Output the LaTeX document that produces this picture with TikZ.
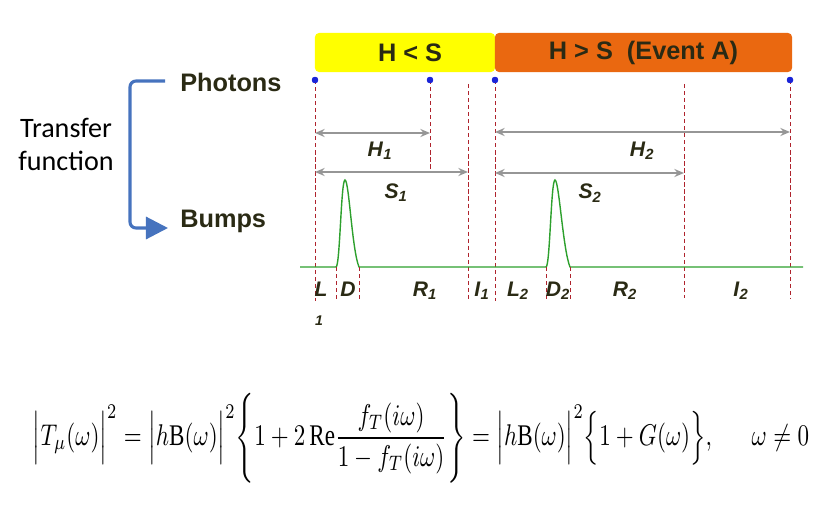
\documentclass[tikz,border=0pt]{standalone}
\usepackage{amsmath}
\usepackage{fontspec}
\setmainfont{Liberation Sans}
\newfontfamily\tffont{Carlito}
\newfontfamily\uprmfont{Liberation Serif}
\usetikzlibrary{arrows.meta,positioning}
\definecolor{olivetxt}{RGB}{42,42,20}
\definecolor{boxyellow}{RGB}{255,255,0}
\definecolor{boxorange}{RGB}{234,104,16}
\definecolor{dotblue}{RGB}{25,35,215}
\definecolor{cutred}{RGB}{175,35,45}
\definecolor{spangray}{RGB}{150,150,150}
\definecolor{bumpgreen}{RGB}{45,160,45}
\definecolor{tfblue}{RGB}{70,115,190}
\newcommand{\seglabel}[2]{\textbf{\textit{#1}\textsubscript{\textit{#2}}}}
\newcommand{\uprm}[1]{\textnormal{\uprmfont #1}}
\tikzset{>=Stealth,
	casebox/.style={% coloured headers over the two cases
		draw=none, rectangle,
		rounded corners=1mm,
		minimum height=0.975cm,
		inner sep=0pt,
		text=olivetxt,
		font=\fontsize{18}{20}\selectfont\bfseries
	},
	dot/.style={
		shape=circle,
		fill=dotblue,
		inner sep=0pt,
		minimum size=0.16cm
	},
	cut/.style={draw=cutred, dashed, dash pattern=on 3pt off 2pt, line width=0.7pt},
	span/.style={draw=spangray, line width=1.3pt, {Stealth[length=2.4mm,width=2mm]}-{Stealth[length=2.4mm,width=2mm]}},
	seg/.style={text=olivetxt, inner sep=0pt, font=\fontsize{15}{17}\selectfont},
	side/.style={text=olivetxt, inner sep=0pt, anchor=west, font=\fontsize{18}{20}\selectfont\bfseries},
	flow/.style={draw=tfblue, line width=2.2pt, rounded corners=1.5mm, -{Triangle[length=0.55cm,width=0.55cm]}}
}
\begin{document}
\begin{tikzpicture}[x=0.025cm,y=-0.025cm]
	\useasboundingbox (0,0) rectangle (830,512);
	% headers
	\node [casebox, fill=boxyellow, minimum width=4.5cm] (hls) at (405,52.5) {\hspace*{0.25cm}H < S};
	\node [casebox, fill=boxorange, minimum width=7.425cm] (hgs) at (643.5,52.5) {H > S\ \ (Event A)};
	% left side
	\node [side] (photons) at (180,82) {Photons};
	\node [side] (bumps) at (180,221) {Bumps};
	\node [text=black, align=center, inner sep=0pt, font=\tffont\fontsize{20}{23.5}\selectfont] (transfer) at (66,144) {Transfer\\function};
	\coordinate (tfa) at (165,81);
	\coordinate (tfb) at (168,228);
	\draw [flow] (tfa) -- (130,81) |- (tfb);
	% photon arrival times and cut lines
	\coordinate (t0) at (315,301);
	\coordinate (t1) at (430,172);
	\coordinate (u1) at (468,84);
	\coordinate (t1b) at (468,301);
	\coordinate (t2) at (495,301);
	\coordinate (u2) at (684,84);
	\coordinate (t2b) at (684,298);
	\coordinate (t3) at (790,298);
	\node [dot] (p0) at (315,80) {};
	\node [dot] (p1) at (430,80) {};
	\node [dot] (p2) at (495,80) {};
	\node [dot] (p3) at (790,80) {};
	\draw [cut] (p0.center) -- (t0);
	\draw [cut] (p1.center) -- (t1);
	\draw [cut] (u1) -- (t1b);
	\draw [cut] (p2.center) -- (t2);
	\draw [cut] (u2) -- (t2b);
	\draw [cut] (p3.center) -- (t3);
	\node [dot] at (p0) {};
	\node [dot] at (p1) {};
	\node [dot] at (p2) {};
	\node [dot] at (p3) {};
	% spans
	\coordinate (h1a) at (315,133);
	\coordinate (h1b) at (430,133);
	\coordinate (s1a) at (315,172);
	\coordinate (s1b) at (468,172);
	\coordinate (h2a) at (495,132);
	\coordinate (h2b) at (790,132);
	\coordinate (s2a) at (495,173);
	\coordinate (s2b) at (684,173);
	\draw [span] (h1a) -- (h1b);
	\draw [span] (s1a) -- (s1b);
	\draw [span] (h2a) -- (h2b);
	\draw [span] (s2a) -- (s2b);
	\node [seg] (lh1) at (380,151) {\seglabel{H}{1}};
	\node [seg] (ls1) at (396,193) {\seglabel{S}{1}};
	\node [seg] (lh2) at (642,151) {\seglabel{H}{2}};
	\node [seg] (ls2) at (590,193) {\seglabel{S}{2}};
	% bumps
	\coordinate (g0) at (300,267);
	\coordinate (g1) at (803,267);
	\draw [bumpgreen, line width=1pt] (g0) -- (336,267)
		.. controls (340,267) and (341,180) .. (345,180)
		.. controls (349,180) and (352,250) .. (359,267) -- (546,267)
		.. controls (550,267) and (551,180) .. (555,180)
		.. controls (559,180) and (563,250) .. (570,267) -- (g1);
	\coordinate (d1a) at (336,267);
	\coordinate (d1b) at (359,267);
	\coordinate (d2a) at (546,267);
	\coordinate (d2b) at (570,267);
	\draw [cut] (d1a) -- ++(0,35);
	\draw [cut] (d1b) -- ++(0,35);
	\draw [cut] (d2a) -- ++(0,33);
	\draw [cut] (d2b) -- ++(0,33);
	% segment names
	\node [seg] (ll1) at (321,289) {\textbf{\textit{L}}};
	\node [seg, font=\fontsize{10}{12}\selectfont] (ll1s) at (319,321) {\textbf{\textit{1}}};
	\node [seg] (ld1) at (348,289) {\textbf{\textit{D}}};
	\node [seg] (lr1) at (425,291) {\seglabel{R}{1}};
	\node [seg] (li1) at (482,291) {\seglabel{I}{1}};
	\node [seg] (ll2) at (518,291) {\seglabel{L}{2}};
	\node [seg] (ld2) at (558,291) {\seglabel{D}{2}};
	\node [seg] (lr2) at (625,291) {\seglabel{R}{2}};
	\node [seg] (li2) at (741,291) {\seglabel{I}{2}};
	% transfer function formula
	\node [inner sep=0pt] (formula) at (421,438) {\scalebox{1}[1.3]{\resizebox{19.4cm}{!}{$\displaystyle
		\Bigl|T_{\mu}(\omega)\Bigr|^{2}=\Bigl|h\uprm{B}(\omega)\Bigr|^{2}\Biggl\{1+2\,\uprm{Re}\frac{f_{T}(i\omega)}{1-f_{T}(i\omega)}\Biggr\}=\Bigl|h\uprm{B}(\omega)\Bigr|^{2}\Bigl\{1+G(\omega)\Bigr\},\quad\;\;\omega\neq0$}}};
\end{tikzpicture}
\end{document}
